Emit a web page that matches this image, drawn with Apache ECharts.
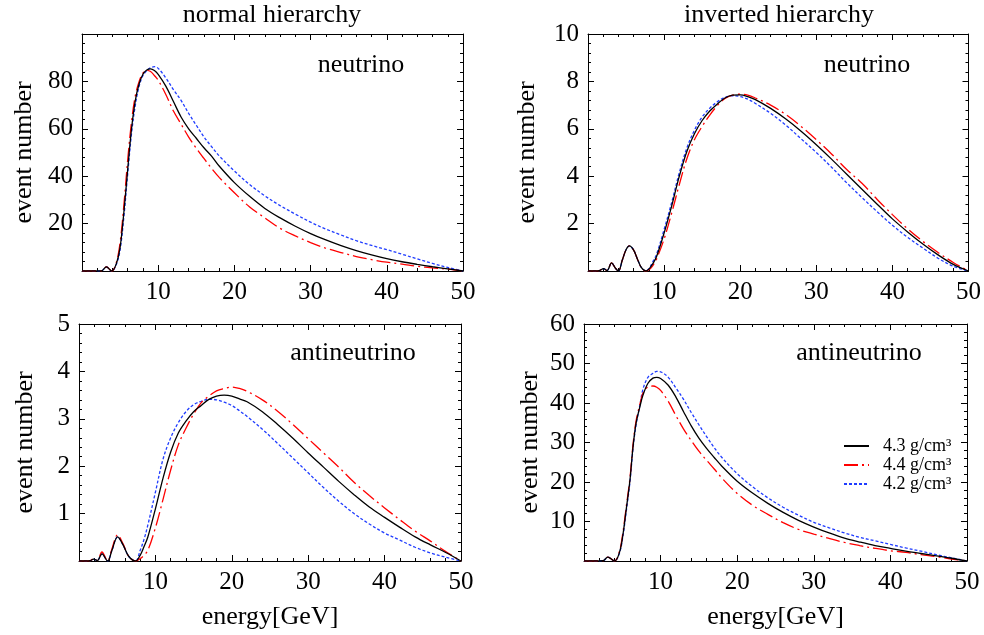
<!DOCTYPE html>
<html>
<head>
<meta charset="utf-8">
<script src="https://cdn.jsdelivr.net/npm/echarts@6/dist/echarts.min.js"></script>
<style>
  html, body { margin: 0; background: #fff; }
  #chart { width: 984px; height: 635px; }
</style>
</head>
<body>
<div id="chart"></div>
<script>
// normal hierarchy, neutrino
const nhNuEnergy = [0, 2.5, 3.2, 3.9, 4.5, 5, 5.5, 6, 6.5, 7, 7.5, 8, 8.5, 9, 9.5, 10, 11, 12, 13, 14, 15, 16, 17, 18, 20, 22, 24, 26, 28, 30, 32, 34, 36, 38, 40, 42, 44, 46, 48, 50]
const nhNu43 = [0, 0, 1.7, 0, 3, 10, 25, 43, 60, 72, 79, 83, 84.8, 85.3, 84.6, 83, 78, 71.5, 65, 60, 56, 52, 48.5, 44.3, 37.3, 31.5, 26.4, 22.4, 18.9, 15.8, 13.1, 10.7, 8.6, 6.8, 5.2, 3.9, 2.8, 1.8, 0.9, 0]
const nhNu44 = [0, 0, 1.7, 0, 3.5, 12, 28, 47, 63, 74, 80, 83.5, 84.7, 84.2, 82.5, 80.5, 74.5, 67.5, 62, 56.5, 51.8, 47.5, 43.3, 39.5, 33, 27, 22.4, 18, 14.8, 12, 9.6, 7.8, 6.1, 4.8, 3.7, 2.9, 2.0, 1.3, 0.8, 0]
const nhNu42 = [0, 0, 1.7, 0, 2.7, 9, 23, 41, 58, 70, 78, 82.5, 84.5, 85.8, 86.2, 85.5, 81.5, 76.5, 72, 66.5, 61.5, 56.6, 52.5, 48.6, 42.2, 36.5, 31.7, 27.6, 24, 20.6, 17.7, 15.2, 12.8, 10.8, 9, 7.1, 5.1, 3.2, 1.5, 0]

// inverted hierarchy, neutrino
const ihNuEnergy = [0, 1.5, 2.05, 2.5, 3.1, 3.6, 4, 4.5, 5, 5.45, 6, 6.5, 7, 7.6, 8, 8.5, 9, 10, 11, 12, 13, 14, 15, 16, 17, 18, 19, 20, 21, 22, 24, 26, 28, 30, 32, 34, 36, 38, 40, 42, 44, 46, 48, 50]
const ihNu43 = [0, 0.02, 0.1, 0.02, 0.34, 0.12, 0, 0.45, 0.9, 1.06, 0.88, 0.5, 0.15, 0, 0.08, 0.3, 0.6, 1.6, 2.75, 4.0, 5.05, 5.8, 6.35, 6.75, 7.05, 7.3, 7.42, 7.43, 7.36, 7.23, 6.86, 6.41, 5.9, 5.33, 4.72, 4.08, 3.45, 2.82, 2.2, 1.65, 1.14, 0.68, 0.28, 0]
const ihNu44 = [0, 0.02, 0.1, 0.02, 0.34, 0.12, 0, 0.45, 0.9, 1.06, 0.88, 0.5, 0.15, 0, 0.05, 0.22, 0.5, 1.35, 2.45, 3.65, 4.75, 5.55, 6.1, 6.58, 6.98, 7.28, 7.42, 7.46, 7.42, 7.3, 7.0, 6.6, 6.1, 5.54, 4.94, 4.28, 3.7, 3.02, 2.38, 1.78, 1.25, 0.78, 0.36, 0]
const ihNu42 = [0, 0.02, 0.1, 0.02, 0.34, 0.12, 0, 0.45, 0.9, 1.06, 0.88, 0.5, 0.15, 0, 0.1, 0.38, 0.7, 1.75, 2.9, 4.15, 5.2, 5.95, 6.5, 6.87, 7.14, 7.33, 7.39, 7.36, 7.25, 7.07, 6.65, 6.15, 5.58, 5.0, 4.38, 3.72, 3.1, 2.5, 1.93, 1.42, 0.97, 0.54, 0.2, 0]

// normal hierarchy, antineutrino
const nhAnuEnergy = [0, 1.5, 1.9, 2.4, 3, 3.75, 4.3, 5.05, 5.8, 6.5, 7.4, 8, 8.5, 9, 10, 11, 12, 13, 14, 15, 16, 17, 18, 19, 20, 21, 22, 24, 26, 28, 30, 32, 34, 36, 38, 40, 42, 44, 46, 48, 50]
const nhAnu43 = [0, 0.01, 0.04, 0.01, 0.15, 0, 0.22, 0.51, 0.33, 0.1, 0, 0.12, 0.3, 0.5, 1.1, 1.75, 2.3, 2.7, 2.95, 3.15, 3.28, 3.41, 3.48, 3.5, 3.48, 3.42, 3.36, 3.15, 2.88, 2.59, 2.28, 1.98, 1.68, 1.4, 1.14, 0.92, 0.71, 0.51, 0.34, 0.18, 0]
const nhAnu44 = [0, 0.01, 0.05, 0.01, 0.19, 0, 0.25, 0.55, 0.35, 0.1, 0, 0.05, 0.12, 0.22, 0.7, 1.3, 1.92, 2.45, 2.8, 3.1, 3.34, 3.48, 3.59, 3.64, 3.67, 3.64, 3.58, 3.4, 3.16, 2.88, 2.58, 2.28, 1.98, 1.66, 1.38, 1.12, 0.87, 0.63, 0.42, 0.2, 0]
const nhAnu42 = [0, 0.01, 0.04, 0.01, 0.15, 0, 0.22, 0.51, 0.33, 0.1, 0, 0.22, 0.45, 0.75, 1.45, 2.15, 2.6, 2.92, 3.15, 3.3, 3.37, 3.41, 3.4, 3.35, 3.28, 3.17, 3.05, 2.78, 2.48, 2.17, 1.86, 1.55, 1.26, 1.0, 0.78, 0.59, 0.44, 0.29, 0.17, 0.08, 0]

// inverted hierarchy, antineutrino
const ihAnuEnergy = [0, 2.5, 3.1, 4, 4.65, 5.1, 5.5, 6, 6.4, 6.8, 7.3, 7.7, 8.35, 9, 9.5, 10, 11, 12, 13, 14, 15, 16, 17, 18, 20, 22, 24, 26, 28, 30, 32, 34, 36, 38, 40, 42, 44, 46, 48, 50]
const ihAnu43 = [0, 0.1, 1.0, 0, 2.3, 6.9, 12.9, 20.5, 28.9, 34.9, 39.1, 42, 45, 46.3, 46.5, 46.2, 44.5, 41.5, 37.8, 34.2, 31.1, 28.5, 26.2, 24.0, 20.2, 17.2, 14.6, 12.3, 10.3, 8.6, 7.1, 5.8, 4.8, 3.9, 3.2, 2.5, 1.9, 1.3, 0.7, 0]
const ihAnu44 = [0, 0.1, 1.0, 0, 2.6, 7.5, 13.5, 21, 29.5, 35.5, 39.7, 42.5, 44.1, 44.3, 44, 43.2, 40.4, 36.8, 33.4, 30.5, 27.8, 25.5, 23.3, 21.0, 17.1, 14.1, 11.8, 9.7, 8.0, 6.8, 5.7, 4.7, 3.9, 3.2, 2.6, 2.2, 1.6, 1.1, 0.5, 0]
const ihAnu42 = [0, 0.1, 1.0, 0, 2.1, 6.5, 12.3, 20, 28.5, 34.5, 39.5, 43.5, 46.5, 47.5, 48, 47.9, 46.5, 43.8, 40.9, 37.6, 34.5, 31.5, 28.7, 26.2, 22.1, 18.8, 16.0, 13.6, 11.6, 9.8, 8.4, 7.1, 6.0, 5.1, 4.2, 3.3, 2.5, 1.6, 0.8, 0]

const densityNames = ['4.3 g/cm³', '4.4 g/cm³', '4.2 g/cm³']
const lineColors = ['#000000', '#ff0000', '#1f3cff']
const lineTypes = ['solid', [14, 4, 2, 4], [3, 2]]
const font = 'Liberation Serif'

const panels = [
  { energy: nhNuEnergy, values: [nhNu43, nhNu44, nhNu42], yMax: 100, yStep: 20, hideTop: true,
    grid: { left: 82, top: 34, width: 381, height: 237 }, xName: '', yGap: 45 },
  { energy: ihNuEnergy, values: [ihNu43, ihNu44, ihNu42], yMax: 10, yStep: 2,
    grid: { left: 588, top: 34, width: 382, height: 237 }, xName: '', yGap: 48 },
  { energy: nhAnuEnergy, values: [nhAnu43, nhAnu44, nhAnu42], yMax: 5, yStep: 1,
    grid: { left: 79, top: 324, width: 382, height: 237 }, xName: 'energy[GeV]', yGap: 41 },
  { energy: ihAnuEnergy, values: [ihAnu43, ihAnu44, ihAnu42], yMax: 60, yStep: 10,
    grid: { left: 584, top: 324, width: 383, height: 237 }, xName: 'energy[GeV]', yGap: 41 },
]

const tick = { show: true, inside: true, length: 6, lineStyle: { color: '#000' } }
const minor = { show: true, splitNumber: 5, length: 3, lineStyle: { color: '#000' } }
const axisLine = { show: true, onZero: false, lineStyle: { color: '#000', width: 1 } }
const label = { color: '#000', fontFamily: font, fontSize: 25, margin: 9 }

const grid = [], xAxis = [], yAxis = [], series = []
panels.forEach((p, i) => {
  grid.push(p.grid)
  const xBase = { type: 'value', gridIndex: i, min: 0, max: 50, interval: 10,
    axisLine, axisTick: tick, minorTick: minor, splitLine: { show: false } }
  const yBase = { type: 'value', gridIndex: i, min: 0, max: p.yMax, interval: p.yStep,
    axisLine, axisTick: tick, minorTick: minor, splitLine: { show: false } }
  xAxis.push({ ...xBase, position: 'bottom',
    axisLabel: { ...label, formatter: v => (v === 0 ? '' : v) },
    name: p.xName, nameLocation: 'middle', nameGap: 43,
    nameTextStyle: { color: '#000', fontFamily: font, fontSize: 26 } })
  xAxis.push({ ...xBase, position: 'top', axisLabel: { show: false } })
  yAxis.push({ ...yBase, position: 'left',
    axisLabel: { ...label, formatter: v => (v === 0 || (p.hideTop && v === p.yMax) ? '' : v) },
    name: 'event number', nameLocation: 'middle', nameGap: p.yGap,
    nameTextStyle: { color: '#000', fontFamily: font, fontSize: 26 } })
  yAxis.push({ ...yBase, position: 'right', axisLabel: { show: false } })
  p.values.forEach((vals, k) => {
    series.push({
      name: densityNames[k], type: 'line', xAxisIndex: 2 * i, yAxisIndex: 2 * i,
      data: p.energy.map((e, j) => [e, vals[j]]),
      symbol: 'none', showSymbol: false, smooth: 0.35,
      lineStyle: { color: lineColors[k], width: 1.3, type: lineTypes[k] },
      itemStyle: { color: lineColors[k] },
      z: 3 - k,
    })
  })
})

const txt = (x, y, text) => ({ type: 'text', x, y,
  style: { text, fontFamily: font, fontSize: 26, fill: '#000', align: 'center', verticalAlign: 'middle' } })

const chart = echarts.init(document.getElementById('chart'))
chart.setOption({
  animation: false,
  backgroundColor: '#fff',
  grid, xAxis, yAxis, series,
  legend: {
    data: densityNames, orient: 'vertical', left: 838, top: 432,
    itemWidth: 25, itemHeight: 10, itemGap: 1,
    itemStyle: { opacity: 0 },
    textStyle: { color: '#000', fontFamily: font, fontSize: 18, padding: [0, 0, 0, 9] },
  },
  graphic: [
    txt(272, 15, 'normal hierarchy'),
    txt(779, 15, 'inverted hierarchy'),
    txt(361, 65, 'neutrino'),
    txt(867, 65, 'neutrino'),
    txt(353, 353, 'antineutrino'),
    txt(859, 353, 'antineutrino'),
  ],
})
</script>
</body>
</html>
